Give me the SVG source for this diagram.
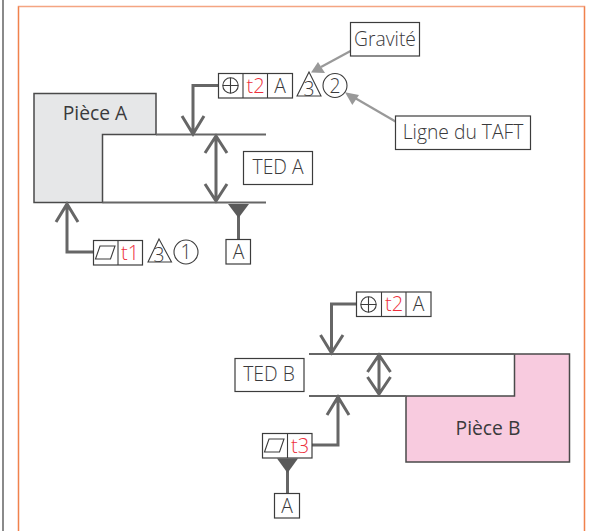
<svg xmlns="http://www.w3.org/2000/svg" width="590" height="531" viewBox="0 0 590 531">
<style>
text{font-family:"Open Sans","Noto Sans","Liberation Sans",sans-serif;fill:#3a3a3c;text-anchor:middle}
.l{font-size:19.3px;font-weight:300}
.n{font-size:19.3px}
.r{fill:#ed2f3c;font-size:20px;font-weight:300}
.box{fill:#fff;stroke:#3c3c3c;stroke-width:1.2}
.thin{fill:none;stroke:#3c3c3c;stroke-width:1.1}
.lead{fill:none;stroke:#666;stroke-width:3}
.edge{fill:none;stroke:#666;stroke-width:2}
.callout{fill:none;stroke:#999;stroke-width:2.2}
</style>
<defs>
<g id="pos"><circle cx="12.5" cy="12.5" r="7.7" class="thin"/><path d="M4.8 12.5H20.2M12.5 4.8V20.2" class="thin"/></g>
<path id="par" class="thin" d="M2.500 19L7 6H22L17.500 19Z"/>
</defs>
<rect x="0" y="0" width="590" height="531" fill="#fff"/>
<path d="M3 0V531" stroke="#8a8a8a" stroke-width="2" fill="none"/>
<path d="M18.500 531V6.500H584.500V531" fill="none" stroke="#f4a582" stroke-width="1.500"/>
<path d="M18.500 531V6.500M584.500 6.500V531" fill="none" stroke="#f0824c" stroke-width="1.200"/>

<g id="piece-a">
<path d="M34 93.500H156V134.500H102.500V202.500H34Z" fill="#e6e7e8" stroke="#4a4a4a" stroke-width="1.500"/>
<text x="95" y="120" class="n">Pièce A</text>
</g>
<g id="piece-b">
<path d="M514.500 354H569.500V462H406V396H514.500Z" fill="#f8cbdf" stroke="#4a4a4a" stroke-width="1.500"/>
<text x="488" y="435" class="n">Pièce B</text>
</g>

<g id="connectors">
<path class="edge" d="M156 134.500H266M102.500 202.500H266M309 354H514.500M309 396H406"/>
<path class="lead" d="M218 85.500H193V133M182 116L193 134L204 116"/>
<path class="lead" d="M216 137V200M205 153L216 136L227 153M205 184L216 201L227 184"/>
<path class="lead" d="M93 252H67V205M56 222L67 204L78 222"/>
<path class="lead" d="M238.500 214V240"/>
<path fill="#5a5a5a" d="M228 204H249L238.500 218Z"/>
<path class="lead" d="M356 304H331.500V352M320.500 335L331.500 353L343 335"/>
<path class="lead" d="M379 356V394M367.500 372L379 355L390.500 372M367.500 377L379 394L390.500 377"/>
<path class="lead" d="M312 445H338V398M327 415L338 397L349 415"/>
<path class="lead" d="M287.500 470V494"/>
<path fill="#5a5a5a" d="M277 458.500H298L287.500 473Z"/>
<path class="callout" d="M350.500 51L321 67"/>
<path fill="#999" d="M311 72.500L318 62L325 73Z"/>
<path class="callout" d="M395.500 121.500L355 98"/>
<path fill="#999" d="M345 92.300L359 95L352.300 105Z"/>
</g>

<g id="fcf-top-a">
<rect class="box" x="218.500" y="73.500" width="74" height="24.500"/>
<path class="thin" d="M243 73.500V98M267.500 73.500V98"/>
<use href="#pos" x="218" y="73"/>
<text x="255.500" y="92.500" class="r">t2</text>
<text x="280" y="92.500" class="l">A</text>
</g>
<g id="note-3-2">
<path class="thin" d="M309 72L321 96H297Z"/>
<text x="309" y="96" class="l">3</text>
<circle class="thin" cx="335" cy="85.500" r="12"/>
<text x="335" y="92.500" class="l">2</text>
</g>
<g id="gravite">
<rect class="box" x="350.500" y="22.500" width="69" height="33.500"/>
<text x="385" y="45.500" class="l">Gravité</text>
</g>
<g id="ligne-taft">
<rect class="box" x="395.500" y="116" width="135" height="33.500"/>
<text x="463" y="139" class="l">Ligne du TAFT</text>
</g>
<g id="ted-a">
<rect class="box" x="243.500" y="151.500" width="69" height="33"/>
<text x="278" y="174" class="l">TED A</text>
</g>
<g id="datum-a1">
<rect class="box" x="226" y="239.500" width="24.500" height="24.500"/>
<text x="238.500" y="259" class="l">A</text>
</g>
<g id="fcf-t1">
<rect class="box" x="93.500" y="240.500" width="49" height="24.500"/>
<path class="thin" d="M118 240.500V265"/>
<use href="#par" x="93" y="240"/>
<text x="130" y="259.500" class="r">t1</text>
</g>
<g id="note-3-1">
<path class="thin" d="M159 239L171.500 262H148Z"/>
<text x="159" y="262" class="l">3</text>
<circle class="thin" cx="186" cy="252" r="12"/>
<text x="186" y="259" class="l">1</text>
</g>
<g id="fcf-top-b">
<rect class="box" x="356.500" y="292" width="74.500" height="24.500"/>
<path class="thin" d="M381.500 292V316.500M406 292V316.500"/>
<use href="#pos" x="356" y="292"/>
<text x="394" y="311" class="r">t2</text>
<text x="418.500" y="311" class="l">A</text>
</g>
<g id="ted-b">
<rect class="box" x="235" y="358.500" width="69" height="33"/>
<text x="269" y="381" class="l">TED B</text>
</g>
<g id="fcf-t3">
<rect class="box" x="262.500" y="433.500" width="49.500" height="24.500"/>
<path class="thin" d="M287.500 433.500V458"/>
<use href="#par" x="262" y="433"/>
<text x="300" y="452.500" class="r">t3</text>
</g>
<g id="datum-a2">
<rect class="box" x="274.500" y="493.500" width="25" height="24.500"/>
<text x="287" y="512.500" class="l">A</text>
</g>
</svg>
